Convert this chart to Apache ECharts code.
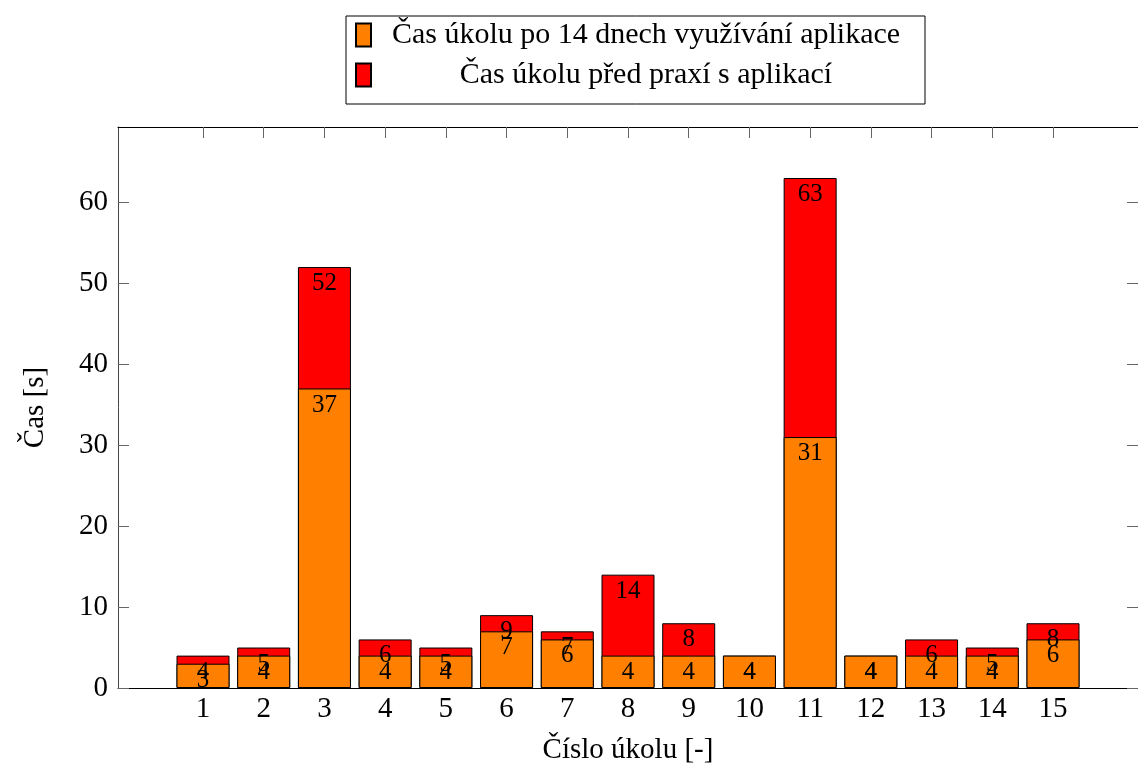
<!DOCTYPE html>
<html>
<head>
<meta charset="utf-8">
<script src="https://cdn.jsdelivr.net/npm/echarts@6/dist/echarts.min.js"></script>
<style>
  html, body { margin: 0; padding: 0; background: #fff; }
  #chart { width: 1138px; height: 770px; }
</style>
</head>
<body>
<div id="chart"></div>
<script>
// data
const ukoly = [1, 2, 3, 4, 5, 6, 7, 8, 9, 10, 11, 12, 13, 14, 15];
const casPo = [3, 4, 37, 4, 4, 7, 6, 4, 4, 4, 31, 4, 4, 4, 6];     // po 14 dnech
const casPred = [4, 5, 52, 6, 5, 9, 7, 14, 8, 4, 63, 4, 6, 5, 8];  // pred praxi
const yTicks = [0, 10, 20, 30, 40, 50, 60];

const nazevPo = 'Čas úkolu po 14 dnech využívání aplikace';
const nazevPred = 'Čas úkolu před praxí s aplikací';

const FONT = '"Liberation Serif", "DejaVu Serif", serif';
const chart = echarts.init(document.getElementById('chart'));

// spolecne nastaveni os (ramecek kolem grafu)
const tickStyle = { show: true, inside: true, length: 11, lineStyle: { color: '#666', width: 1 } };
const axisLine = { show: true, onZero: false, lineStyle: { color: '#000', width: 1 } };

chart.setOption({
  animation: false,
  textStyle: { fontFamily: FONT },
  grid: { left: 118, right: -11, top: 127, bottom: 82 },
  legend: {
    data: [nazevPo, nazevPred],
    orient: 'vertical',
    left: 346,
    top: 16,
    padding: [4, 9, 14, 9],
    itemGap: 10,
    itemWidth: 15,
    itemHeight: 23,
    icon: 'rect',
    borderColor: '#000',
    borderWidth: 1,
    textStyle: {
      color: '#000', fontFamily: FONT, fontSize: 30, lineHeight: 30,
      rich: { t: { width: 540, align: 'center', fontFamily: FONT, fontSize: 30, lineHeight: 30, color: '#000' } }
    },
    formatter: name => '{t|' + name + '}'
  },
  xAxis: [
    {
      type: 'value', min: -0.4, max: 16.4,
      name: 'Číslo úkolu [-]', nameLocation: 'middle', nameGap: 48,
      nameTextStyle: { fontFamily: FONT, fontSize: 29, color: '#000' },
      axisLine: axisLine,
      axisTick: Object.assign({ customValues: ukoly }, tickStyle),
      axisLabel: { customValues: ukoly, fontFamily: FONT, fontSize: 29, color: '#000', margin: 7 },
      splitLine: { show: false }
    },
    {
      type: 'value', position: 'top', min: -0.4, max: 16.4,
      axisLine: axisLine,
      axisTick: Object.assign({ customValues: ukoly }, tickStyle),
      axisLabel: { show: false },
      splitLine: { show: false }
    }
  ],
  yAxis: [
    {
      type: 'value', min: 0, max: 69.3,
      name: 'Čas [s]', nameLocation: 'middle', nameGap: 68, nameRotate: 90,
      nameTextStyle: { fontFamily: FONT, fontSize: 29, color: '#000' },
      axisLine: { show: true, onZero: false, lineStyle: { color: '#444', width: 1 } },
      axisTick: Object.assign({ customValues: yTicks }, tickStyle),
      axisLabel: { customValues: yTicks, fontFamily: FONT, fontSize: 29, color: '#000', margin: 10 },
      splitLine: { show: false }
    },
    {
      type: 'value', position: 'right', min: 0, max: 69.3,
      axisLine: axisLine,
      axisTick: Object.assign({ customValues: yTicks }, tickStyle),
      axisLabel: { show: false },
      splitLine: { show: false }
    }
  ],
  series: [
    {
      name: nazevPred,
      type: 'bar',
      barWidth: 53,
      barGap: '-100%',
      data: ukoly.map((u, i) => [u, casPred[i]]),
      itemStyle: { color: '#ff0000', borderColor: '#000', borderWidth: 1 },
      label: { show: true, position: 'insideTop', distance: 4, fontFamily: FONT, fontSize: 25, color: '#000',
        formatter: p => p.value[1] }
    },
    {
      name: nazevPo,
      type: 'bar',
      barWidth: 53,
      barGap: '-100%',
      data: ukoly.map((u, i) => [u, casPo[i]]),
      itemStyle: { color: '#ff8000', borderColor: '#000', borderWidth: 1 },
      label: { show: true, position: 'insideTop', distance: 4, fontFamily: FONT, fontSize: 25, color: '#000',
        formatter: p => p.value[1] }
    }
  ]
});
</script>
</body>
</html>
